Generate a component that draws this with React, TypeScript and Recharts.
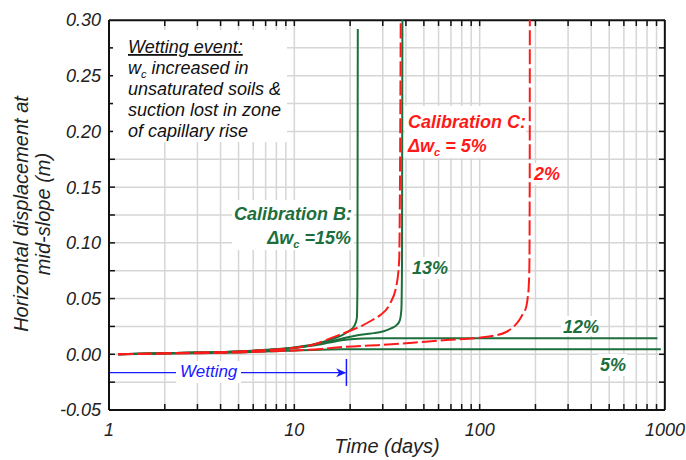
import React from "react";
import {
  LineChart, Line, XAxis, YAxis, ReferenceLine,
} from "recharts";

// ---- axes ----
const X_LABELS = [1, 10, 100, 1000];
const X_MINOR = [
  1, 2, 3, 4, 5, 6, 7, 8, 9,
  10, 20, 30, 40, 50, 60, 70, 80, 90,
  100, 200, 300, 400, 500, 600, 700, 800, 900, 1000,
];
const Y_LABELS = [-0.05, 0, 0.05, 0.1, 0.15, 0.2, 0.25, 0.3];
const Y_MINOR = [
  -0.05, -0.025, 0, 0.025, 0.05, 0.075, 0.1, 0.125, 0.15,
  0.175, 0.2, 0.225, 0.25, 0.275, 0.3,
];
const X_MIN = 1, X_MAX = 1000, Y_MIN = -0.05, Y_MAX = 0.3;

// ---- Calibration B (green, solid) ----
const B15_T = [1.12, 2, 3, 5, 7, 10, 12.6, 15.5, 18, 20, 20.8, 21.4, 21.75, 21.9, 22.0];
const B15_V = [0, 0.0009, 0.0015, 0.0026, 0.004, 0.0062, 0.0088, 0.0128, 0.017, 0.0215, 0.024, 0.028, 0.033, 0.06, 0.292];

const B13_T = [1.12, 2, 3, 5, 7, 10, 12.6, 15.5, 18, 21, 24, 27, 30, 33, 35.5, 37, 37.8, 38.1, 38.3];
const B13_V = [0, 0.0009, 0.0015, 0.0025, 0.0038, 0.0058, 0.0083, 0.0115, 0.014, 0.0165, 0.018, 0.019, 0.0205, 0.023, 0.026, 0.03, 0.04, 0.08, 0.3];

const B12_T = [1.12, 2, 3, 5, 7, 10, 12.6, 15.5, 18, 21, 24, 28, 40, 100, 910];
const B12_V = [0, 0.0009, 0.0015, 0.0025, 0.0037, 0.0056, 0.0078, 0.0105, 0.0125, 0.0137, 0.0141, 0.0143, 0.0143, 0.0143, 0.0143];

const B5_T = [1.12, 2, 3, 5, 7, 10, 12.6, 15.5, 18, 22, 30, 100, 950];
const B5_V = [0, 0.0006, 0.001, 0.0017, 0.0025, 0.0033, 0.0039, 0.0043, 0.0045, 0.0046, 0.0046, 0.0046, 0.0046];

// ---- Calibration C (red, dashed) ----
const C5_T = [1.12, 2, 3, 5, 7, 10, 12.6, 16, 20.6, 23.4, 26.5, 29, 32.7, 35.6, 36.8, 37.2, 37.5];
const C5_V = [0, 0.0009, 0.0015, 0.0025, 0.0038, 0.0058, 0.0085, 0.015, 0.022, 0.026, 0.031, 0.035, 0.045, 0.062, 0.085, 0.17, 0.3];

const C2_T = [1.12, 2, 3, 5, 7, 10, 14, 19, 29, 43.6, 66, 100, 120, 139, 152, 164, 172, 178.6, 182, 184, 185.5, 186.2, 186.5];
const C2_V = [0, 0.0006, 0.001, 0.0017, 0.0025, 0.0034, 0.0048, 0.0068, 0.0083, 0.0104, 0.0128, 0.0149, 0.0168, 0.02, 0.0245, 0.031, 0.037, 0.043, 0.052, 0.061, 0.08, 0.15, 0.3];

// ---- wetting arrow ----
const WET_T = [1, 18.8];
const WET_V = [-0.0165, -0.0165];
const WET_END = 19.1;

const toRows = (t: number[], v: number[]) => t.map((x, i) => ({ t: x, v: v[i] }));

const GREEN = "#1c6e3c";
const RED = "#ff1a1a";
const BLUE = "#1a1aff";
const FONT = "'Liberation Sans', Arial, sans-serif";

// inward tick length, in data units (~6px)
const TICK_DY = 0.0054;
const TICK_FX = 1.077;
// edge lines sit a hair inside the domain, otherwise recharts drops them
const EPS_Y = 0.0003;
const EPS_FX = 1.002;

const arrowDot = (props: any) => {
  const { cx, cy, index } = props;
  if (index !== WET_T.length - 1) return <g key={index} />;
  return (
    <polygon
      key={index}
      points={`${cx - 9},${cy - 4.5} ${cx + 1},${cy} ${cx - 9},${cy + 4.5} ${cx - 6},${cy}`}
      fill={BLUE}
    />
  );
};

const Overlay = () => (
  <svg
    width={686}
    height={460}
    style={{ position: "absolute", left: 0, top: 0, pointerEvents: "none" }}
    fontFamily={FONT}
  >
    {/* axis titles */}
    <g fontStyle="italic" fontSize={20} fill="#222" textAnchor="middle">
      <text transform="translate(28,214) rotate(-90)">Horizontal displacement at</text>
      <text transform="translate(50,214) rotate(-90)">mid-slope (m)</text>
      <text x={387} y={453}>Time (days)</text>
    </g>

    {/* wetting event note */}
    <rect x={113} y={30} width={174} height={112} fill="#fff" />
    <g fontStyle="italic" fontSize={18} fill="#111">
      <text x={128} y={53} textDecoration="underline">Wetting event:</text>
      <text x={128} y={74}>
        w<tspan fontSize={11} dy={4}>c</tspan>
        <tspan dy={-4}> increased in</tspan>
      </text>
      <text x={128} y={95}>unsaturated soils &amp;</text>
      <text x={128} y={116}>suction lost in zone</text>
      <text x={128} y={137}>of capillary rise</text>
    </g>

    {/* Calibration B */}
    <rect x={232} y={200} width={122} height={50} fill="#fff" />
    <g fontStyle="italic" fontWeight="bold" fontSize={18} fill={GREEN} textAnchor="end">
      <text x={352} y={220}>Calibration B:</text>
      <text x={351} y={244}>
        Δw<tspan fontSize={11} dy={4}>c</tspan>
        <tspan dy={-4}> =15%</tspan>
      </text>
    </g>

    {/* Calibration C */}
    <rect x={405} y={106} width={121} height={52} fill="#fff" />
    <g fontStyle="italic" fontWeight="bold" fontSize={18} fill={RED}>
      <text x={408} y={128}>Calibration C:</text>
      <text x={408} y={152}>
        Δw<tspan fontSize={11} dy={4}>c</tspan>
        <tspan dy={-4}> = 5%</tspan>
      </text>
    </g>

    {/* curve labels */}
    <rect x={532} y={163} width={28} height={22} fill="#fff" />
    <g fontStyle="italic" fontWeight="bold" fontSize={18}>
      <text x={534} y={180} fill={RED}>2%</text>
      <rect x={410} y={257} width={37} height={22} fill="#fff" />
      <text x={412} y={274} fill={GREEN}>13%</text>
      <rect x={561} y={316} width={37} height={20} fill="#fff" />
      <text x={563} y={333} fill={GREEN}>12%</text>
      <rect x={598} y={354} width={29} height={22} fill="#fff" />
      <text x={600} y={371} fill={GREEN}>5%</text>
    </g>

    {/* wetting label */}
    <rect x={176} y={361} width={65} height={22} fill="#fff" />
    <text x={180} y={377} fontStyle="italic" fontSize={17} fill={BLUE}>Wetting</text>
  </svg>
);

export default function App() {
  const tickStyle = { fontSize: 18, fontStyle: "italic", fill: "#222", fontFamily: FONT };
  const frame = { stroke: "#111", strokeWidth: 2 };
  const ax = { xAxisId: "b", yAxisId: "l" };
  const gridProps = { ...ax, stroke: "#d6d6d6", strokeWidth: 1.5, ifOverflow: "visible" as const };
  const tickProps = { ...ax, stroke: "#111", strokeWidth: 1.5, ifOverflow: "visible" as const };
  const innerX = X_MINOR.slice(1, -1);
  const innerY = Y_MINOR.slice(1, -1);

  const yBot = Y_MIN + EPS_Y;
  const yTop = Y_MAX - EPS_Y;
  const xLeft = X_MIN * EPS_FX;
  const xRight = X_MAX / EPS_FX;

  return (
    <div style={{ position: "absolute", left: 0, top: 0, width: 686, height: 460, background: "#fff" }}>
      <LineChart width={686} height={460} margin={{ top: 20, right: 21, left: 0, bottom: 0 }}>
        <XAxis
          xAxisId="b" type="number" dataKey="t" scale="log" domain={[X_MIN, X_MAX]}
          ticks={X_LABELS} allowDataOverflow tickLine={false} axisLine={frame}
          tick={tickStyle} tickMargin={7} height={50}
        />
        <YAxis
          yAxisId="l" type="number" domain={[Y_MIN, Y_MAX]} ticks={Y_LABELS}
          allowDataOverflow tickFormatter={(v: number) => v.toFixed(2)}
          tickLine={false} axisLine={frame} tick={tickStyle} width={109}
        />

        {/* grid */}
        {innerX.map((x) => (
          <ReferenceLine key={`gx${x}`} {...gridProps} x={x} />
        ))}
        {innerY.map((y) => (
          <ReferenceLine key={`gy${y}`} {...gridProps} y={y} />
        ))}

        {/* inward ticks on all four sides */}
        {innerX.map((x) => (
          <ReferenceLine key={`xb${x}`} {...tickProps}
            segment={[{ x, y: yBot }, { x, y: Y_MIN + TICK_DY }]} />
        ))}
        {innerX.map((x) => (
          <ReferenceLine key={`xt${x}`} {...tickProps}
            segment={[{ x, y: yTop }, { x, y: Y_MAX - TICK_DY }]} />
        ))}
        {innerY.map((y) => (
          <ReferenceLine key={`yl${y}`} {...tickProps}
            segment={[{ x: xLeft, y }, { x: X_MIN * TICK_FX, y }]} />
        ))}
        {innerY.map((y) => (
          <ReferenceLine key={`yr${y}`} {...tickProps}
            segment={[{ x: xRight, y }, { x: X_MAX / TICK_FX, y }]} />
        ))}

        {/* top and right frame */}
        <ReferenceLine {...ax} y={yTop} stroke="#111" strokeWidth={2} ifOverflow="visible" />
        <ReferenceLine {...ax} x={xRight} stroke="#111" strokeWidth={2} ifOverflow="visible" />

        <Line {...ax} data={toRows(B15_T, B15_V)} dataKey="v" type="monotone"
          stroke={GREEN} strokeWidth={2} dot={false} isAnimationActive={false} />
        <Line {...ax} data={toRows(B13_T, B13_V)} dataKey="v" type="monotone"
          stroke={GREEN} strokeWidth={2} dot={false} isAnimationActive={false} />
        <Line {...ax} data={toRows(B12_T, B12_V)} dataKey="v" type="monotone"
          stroke={GREEN} strokeWidth={2} dot={false} isAnimationActive={false} />
        <Line {...ax} data={toRows(B5_T, B5_V)} dataKey="v" type="monotone"
          stroke={GREEN} strokeWidth={2} dot={false} isAnimationActive={false} />
        <Line {...ax} data={toRows(C5_T, C5_V)} dataKey="v" type="monotone"
          stroke={RED} strokeWidth={2} strokeDasharray="15 4" dot={false} isAnimationActive={false} />
        <Line {...ax} data={toRows(C2_T, C2_V)} dataKey="v" type="monotone"
          stroke={RED} strokeWidth={2} strokeDasharray="15 4" dot={false} isAnimationActive={false} />

        <Line {...ax} data={toRows(WET_T, WET_V)} dataKey="v" type="linear"
          stroke={BLUE} strokeWidth={1.3} dot={arrowDot} activeDot={false} isAnimationActive={false} />
        <ReferenceLine
          {...ax}
          segment={[{ x: WET_END, y: -0.0042 }, { x: WET_END, y: -0.0284 }]}
          stroke={BLUE} strokeWidth={1.5}
        />
      </LineChart>
      <Overlay />
    </div>
  );
}
